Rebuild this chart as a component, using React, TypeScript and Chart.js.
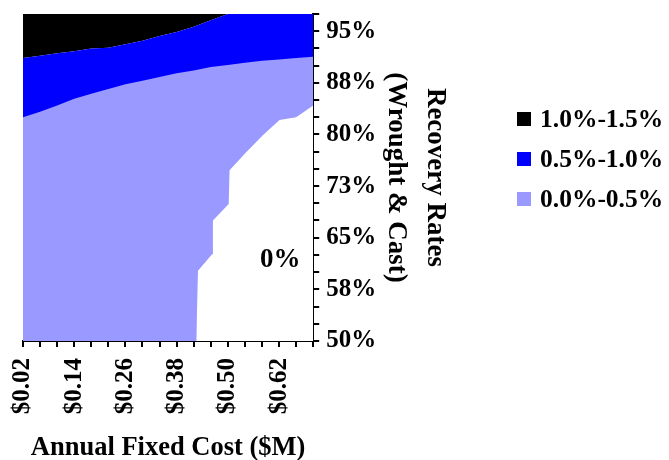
import React, { useEffect, useRef } from 'react';
import { Chart, registerables } from 'chart.js';

Chart.register(...registerables);

// Annual fixed cost grid ($M)
const costs = [0.02, 0.06, 0.10, 0.14, 0.18, 0.22, 0.26, 0.30, 0.34, 0.38, 0.42, 0.46, 0.50, 0.54, 0.58, 0.62, 0.66, 0.70];
// Contour boundary between 1.0%-1.5% (above) and 0.5%-1.0% (below)
const boundaryHigh = [0.911, 0.9145, 0.918, 0.921, 0.925, 0.926, 0.931, 0.936, 0.943, 0.949, 0.9565, 0.966, 0.975, 0.975, 0.975, 0.975, 0.975, 0.975];
// Contour boundary between 0.5%-1.0% (above) and 0.0%-0.5% (below)
const boundaryMid = [0.825, 0.833, 0.842, 0.852, 0.859, 0.866, 0.873, 0.878, 0.8835, 0.889, 0.893, 0.898, 0.901, 0.904, 0.907, 0.909, 0.911, 0.913];
// Contour boundary of the 0% region (below / right)
const zeroCosts = [0.426, 0.430, 0.463, 0.465, 0.502, 0.504, 0.543, 0.582, 0.621, 0.660, 0.70];
const zeroRates = [0.50, 0.602, 0.626, 0.675, 0.699, 0.748, 0.774, 0.799, 0.821, 0.825, 0.842];

const xTickLabels = ['$0.02', '', '', '$0.14', '', '', '$0.26', '', '', '$0.38', '', '', '$0.50', '', '', '$0.62', '', ''];
const yTickLabels = ['50%', '', '', '58%', '', '', '65%', '', '', '73%', '', '', '80%', '', '', '88%', '', '', '95%', ''];

const legendLabels = ['1.0%-1.5%', '0.5%-1.0%', '0.0%-0.5%'];
const legendColors = ['#000000', '#0000FF', '#9999FF'];
const zeroLabel = '0%';

const FONT = '"Liberation Serif", "Times New Roman", serif';

const overlayPlugin = {
  id: 'overlay',
  afterDraw(chart: any) {
    const ctx = chart.ctx;
    const xs = chart.scales.x;
    const ys = chart.scales.y;
    ctx.save();
    ctx.fillStyle = '#000';
    ctx.font = `bold 27px ${FONT}`;
    ctx.textAlign = 'center';
    ctx.textBaseline = 'middle';
    ctx.fillText(zeroLabel, xs.getPixelForValue(0.623), ys.getPixelForValue(0.618));

    // legend
    ctx.font = `bold 25.5px ${FONT}`;
    ctx.textAlign = 'left';
    const bx = chart.width - 152;
    legendLabels.forEach((lab, i) => {
      const cy = 119 + i * 40;
      ctx.fillStyle = legendColors[i];
      ctx.fillRect(bx, cy - 7, 14, 14);
      ctx.fillStyle = '#000';
      ctx.fillText(lab, bx + 23, cy + 1);
    });
    ctx.restore();
  },
};

export default function App() {
  const ref = useRef<HTMLCanvasElement>(null);
  useEffect(() => {
    if (!ref.current) return;
    const highPts = costs.map((c, i) => ({ x: c, y: boundaryHigh[i] }));
    const midPts = costs.map((c, i) => ({ x: c, y: boundaryMid[i] }));
    const zeroPts = zeroCosts.map((c, i) => ({ x: c, y: zeroRates[i] }));
    const base = { pointRadius: 0, borderWidth: 0, tension: 0, showLine: true };
    const chart = new Chart(ref.current, {
      type: 'line',
      data: {
        datasets: [
          { ...base, label: '0%', data: zeroPts, fill: 'start', backgroundColor: '#FFFFFF', borderColor: '#FFFFFF' },
          { ...base, label: legendLabels[2], data: midPts, fill: 'start', backgroundColor: legendColors[2], borderColor: legendColors[2] },
          { ...base, label: legendLabels[1], data: highPts, fill: 'start', backgroundColor: legendColors[1], borderColor: legendColors[1] },
          { ...base, label: legendLabels[0], data: highPts, fill: 'end', backgroundColor: legendColors[0], borderColor: legendColors[0] },
        ],
      },
      options: {
        animation: false,
        responsive: false,
        layout: { padding: { left: 23, top: 14, right: 214, bottom: 0 } },
        plugins: {
          legend: { display: false },
          tooltip: { enabled: false },
        },
        scales: {
          x: {
            type: 'linear',
            position: 'bottom',
            min: 0.02,
            max: 0.70,
            ticks: {
              stepSize: 0.04,
              autoSkip: false,
              minRotation: 90,
              maxRotation: 90,
              padding: 11,
              color: '#000',
              font: { family: FONT, size: 25, weight: 'bold' },
              callback: (_v: any, i: number) => xTickLabels[i] ?? '',
            },
            grid: { display: true, drawOnChartArea: false, drawTicks: true, tickLength: 6, color: '#000', lineWidth: 2 },
            border: { display: true, color: '#000', width: 2 },
            title: {
              display: true,
              text: 'Annual Fixed Cost ($M)',
              color: '#000',
              font: { family: FONT, size: 26.5, weight: 'bold' },
              padding: { top: 7, bottom: -4 },
            },
          },
          y: {
            type: 'linear',
            position: 'right',
            min: 0.5,
            max: 0.975,
            ticks: {
              stepSize: 0.025,
              autoSkip: false,
              padding: 7,
              color: '#000',
              font: (c: any) => ({ family: FONT, size: yTickLabels[c.index] ? 25 : 2, weight: 'bold' }),
              callback: (_v: any, i: number) => yTickLabels[i] ?? '',
            },
            grid: { display: true, drawOnChartArea: false, drawTicks: true, tickLength: 6, color: '#000', lineWidth: 2 },
            border: { display: true, color: '#000', width: 2 },
            title: {
              display: true,
              text: ['Recovery Rates', '(Wrought & Cast)'],
              color: '#000',
              font: { family: FONT, size: 27, weight: 'bold', lineHeight: 1.45 },
              padding: { top: 0, bottom: -6.5 },
            },
          },
        },
      },
      plugins: [overlayPlugin],
    } as any);
    return () => chart.destroy();
  }, []);
  return (
    <div style={{ position: 'absolute', left: 0, top: 0, width: 669, height: 460 }}>
      <canvas ref={ref} width={669} height={460} style={{ display: 'block' }} />
    </div>
  );
}
